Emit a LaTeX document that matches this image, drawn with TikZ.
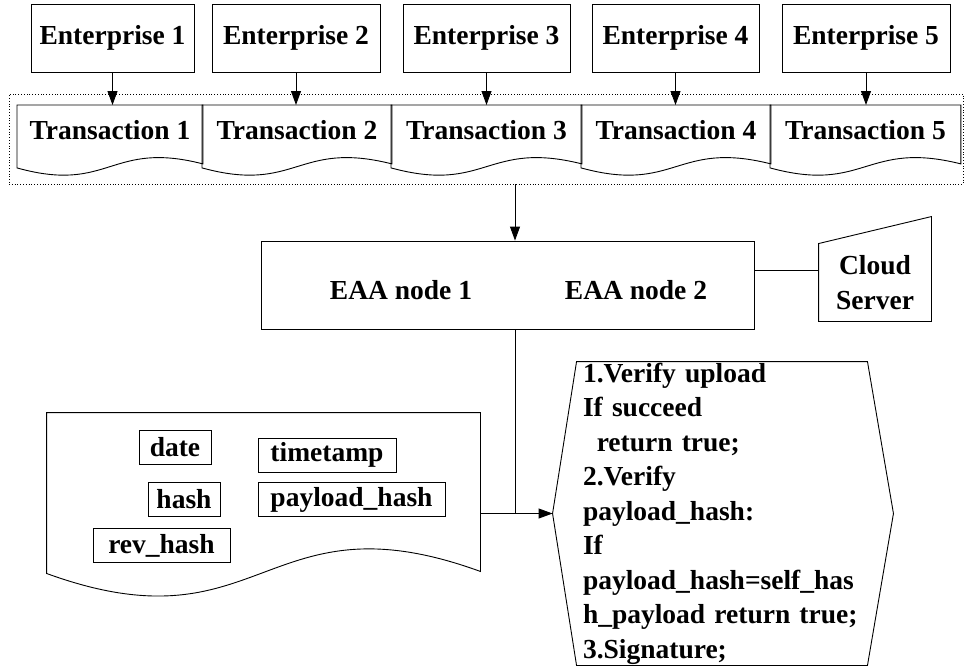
\documentclass[tikz,border=0pt]{standalone}
\usepackage{fontspec}
\setmainfont{Liberation Serif}
\usetikzlibrary{arrows.meta,positioning,calc}

\begin{document}
\begin{tikzpicture}[x=1pt,y=-1pt,
    font=\fontsize{27.5}{34.5}\selectfont\bfseries,
    line width=0.9pt,
    ent/.style={draw,minimum height=68pt,inner sep=0pt},
    txn/.style={anchor=north west,inner xsep=0pt,inner ysep=0pt,
                text height=34pt,text depth=28pt},
    fld/.style={draw,inner sep=0pt,minimum height=34pt},
    shell/.style={inner sep=0pt},
    arr/.style={-{Triangle[length=14pt,width=10pt]}},
    frame/.style={draw,dotted,line width=0.8pt,
                  minimum width=954pt,minimum height=90pt}
  ]
  \useasboundingbox (0,0) rectangle (965,667);

  % enterprises
  \node[ent,minimum width=163pt] (e1) at (112.5,38) {Enterprise 1};
  \node[ent,minimum width=168pt] (e2) at (296,38) {Enterprise 2};
  \node[ent,minimum width=167pt] (e3) at (486.5,38) {Enterprise 3};
  \node[ent,minimum width=167pt] (e4) at (675.5,38) {Enterprise 4};
  \node[ent,minimum width=168pt] (e5) at (866,38) {Enterprise 5};

  % transactions
  \node[frame] (chain) at (486,139) {};
  \node[txn,minimum width=185pt] (t1) at (17,105) {Transaction 1};
  \node[txn,minimum width=189pt] (t2) at (202,105) {Transaction 2};
  \node[txn,minimum width=190pt] (t3) at (391,105) {Transaction 3};
  \node[txn,minimum width=189pt] (t4) at (581,105) {Transaction 4};
  \node[txn,minimum width=190pt] (t5) at (770,105) {Transaction 5};
  \foreach \t in {t1,t2,t3,t4,t5}
    \draw (\t.south west) |- (\t.north east) -- ([yshift=4pt]\t.south east)
      .. controls ([yshift=28pt]\t.south) and ([yshift=-26pt]\t.south) .. (\t.south west) -- cycle;

  \draw[arr] (e1.south) -- (e1.south |- t1.north);
  \draw[arr] (e2.south) -- (e2.south |- t2.north);
  \draw[arr] (e3.south) -- (e3.south |- t3.north);
  \draw[arr] (e4.south) -- (e4.south |- t4.north);
  \draw[arr] (e5.south) -- (e5.south |- t5.north);

  % EAA and cloud
  \coordinate (tap) at (515,0);
  \node[draw,minimum width=493pt,minimum height=88pt] (eaa) at (507.5,285) {};
  \node (n1) at (401,290) {EAA node 1};
  \node (n2) at (636,290) {EAA node 2};
  \node[shell,minimum width=112pt,minimum height=77pt,align=center] (cloud) at (875,282.5) {Cloud\\Server};
  \draw (cloud.south west) -- (cloud.north west) -- ([yshift=27pt]cloud.north east) -- (cloud.south east) -- cycle;
  \draw[arr] (chain.south -| tap) -- (eaa.north -| tap);
  \draw ([yshift=15pt]eaa.east) -- ([yshift=15pt]eaa.east -| cloud.west);

  % block
  \node[shell,minimum width=433pt,minimum height=160pt] (doc) at (263.5,493) {};
  \draw (doc.south west) |- (doc.north east) -- ([yshift=2pt]doc.south east)
    .. controls ([yshift=81pt]doc.south) and ([yshift=-79pt]doc.south) .. (doc.south west) -- cycle;
  \node[fld,minimum width=72pt] (date) at (175,447) {date};
  \node[fld,minimum width=138pt] (ts) at (327,455) {timetamp};
  \node[fld,minimum width=72pt] (hsh) at (184,499) {hash};
  \node[fld,minimum width=187pt] (phash) at (351.5,499.5) {payload\_hash};
  \node[fld,minimum width=137pt] (rhash) at (161.5,545.5) {rev\_hash};

  % verification
  \node[shell,minimum width=290pt,minimum height=303pt,text width=278pt,
        inner xsep=6pt,align=left] (hex) at (722,513.5)
    {1.Verify upload\\
     If succeed\\
     \hspace*{0.5em}return true;\\
     2.Verify\\
     payload\_hash:\\
     If\\
     payload\_hash=self\_has\\
     h\_payload return true;\\
     3.Signature;};
  \coordinate (hexL) at ([xshift=-24pt]hex.west);
  \draw (hex.north west) -- (hex.north east) -- ([xshift=26pt]hex.east)
    -- (hex.south east) -- (hex.south west) -- (hexL) -- cycle;

  \draw ([yshift=-20pt]doc.east) -- ([yshift=-20pt]doc.east -| tap);
  \draw[arr] (eaa.south -| tap) |- (hexL);
\end{tikzpicture}
\end{document}
